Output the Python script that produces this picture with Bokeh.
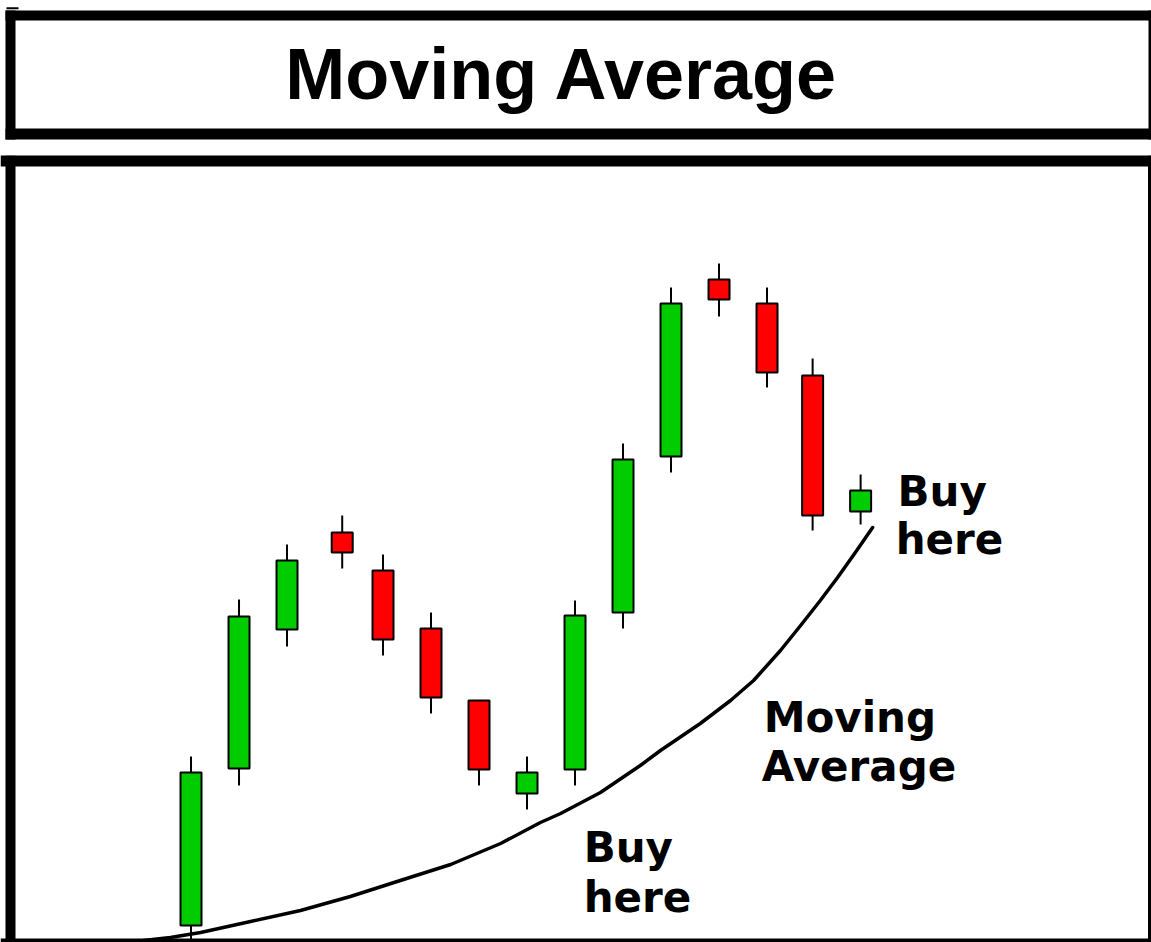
from bokeh.plotting import figure
from bokeh.layouts import column
from bokeh.models import Range1d, Span, ColumnDataSource
from bokeh.core.properties import value
from bokeh.embed import file_html
from bokeh.resources import INLINE

# ---- data ----
title_text = "Moving Average"
day = [1, 2, 3, 4.15, 5, 6, 7, 8, 9, 10, 11, 12, 13, 13.95, 14.95]
open_ = [7.5, 23.2, 37.1, 46.8, 43.0, 37.2, 30.0, 20.7, 23.1, 38.8, 54.4, 72.1, 69.7, 62.5, 48.9]
close = [22.8, 38.4, 44.0, 44.8, 36.1, 30.3, 23.1, 22.8, 38.5, 54.1, 69.7, 70.1, 62.8, 48.5, 51.0]
high = [24.4, 40.1, 45.6, 48.5, 44.6, 38.8, 30.0, 24.4, 40.0, 55.7, 71.3, 73.7, 71.3, 64.2, 52.6]
low = [6.0, 21.5, 35.4, 43.2, 34.5, 28.7, 21.5, 19.1, 21.5, 37.2, 52.8, 68.4, 61.3, 47.0, 47.6]

ma_day = [0.01, 0.57, 1.20, 2.24, 3.28, 4.32, 5.36, 6.41, 7.45, 8.28, 8.70, 9.53, 10.36,
          10.78, 11.61, 12.24, 12.72, 13.28, 13.70, 14.11, 14.47, 14.84, 15.20]
ma_val = [6.0, 6.3, 6.8, 7.9, 9.0, 10.4, 12.0, 13.6, 15.7, 17.8, 18.7, 20.8, 23.5,
          25.0, 27.7, 30.0, 32.0, 35.0, 37.5, 40.0, 42.3, 44.8, 47.3]

label_lines = ["Buy", "here", "Moving", "Average", "Buy", "here"]
label_x = [15.72, 15.68, 12.93, 12.89, 9.18, 9.18]
label_y = [50.9, 46.1, 28.3, 23.4, 15.3, 10.3]

GREEN = "#00cc00"
RED = "#ff0000"

W = 1151
H1 = 155
H2 = 942 - H1

# ---- title panel ----
t = figure(width=W, height=H1, x_range=Range1d(0, W), y_range=Range1d(H1, 0),
           output_backend="svg", toolbar_location=None,
           x_axis_location=None, y_axis_location=None, min_border=0)
t.grid.visible = False
t.outline_line_color = None
t.background_fill_color = "white"
t.border_fill_color = "white"
# box border (decoration)
t.quad(left=[5, 5, 5, 1148, 6], right=[W, 15, W, W, 18], top=[10, 10, 128, 10, 6.7],
       bottom=[20, 139, 139, 139, 8.7], fill_color="black", line_color=None)
t.text(x=[561.5], y=[73], text=[title_text], text_align="center", text_baseline="alphabetic",
       text_font=value("Liberation Sans"), text_font_style="bold", text_font_size="72px",
       text_color="black")

# ---- chart panel ----
PX_PER_DAY = 48.0
x0, x1 = -2.969, 21.010
y0, y1 = 5.8, 84.5
p = figure(width=W, height=H2, x_range=Range1d(x0, x1), y_range=Range1d(y0, y1),
           output_backend="svg", toolbar_location=None,
           x_axis_location=None, y_axis_location=None, min_border=0)
p.grid.visible = False
p.outline_line_color = None
p.background_fill_color = "white"
p.border_fill_color = "white"

colors = [GREEN if c >= o else RED for o, c in zip(open_, close)]
src = ColumnDataSource(dict(
    day=day, high=high, low=low,
    top=[max(o, c) for o, c in zip(open_, close)],
    bottom=[min(o, c) for o, c in zip(open_, close)],
    color=colors,
))

p.line(ma_day, ma_val, line_color="black", line_width=3.5, line_join="round", line_cap="round")
p.segment(x0="day", y0="low", x1="day", y1="high", source=src, line_color="black", line_width=2)
p.vbar(x="day", top="top", bottom="bottom", width=0.4375, source=src,
       fill_color="color", line_color="black", line_width=2)

p.text(x=label_x, y=label_y, text=label_lines, text_align="left", text_baseline="alphabetic",
       text_font=value("DejaVu Sans"), text_font_style="bold", text_font_size="42px",
       text_color="black")

# frame border
p.add_layout(Span(location=x0 + 10 / PX_PER_DAY, dimension="height", line_color="black", line_width=10))
p.add_layout(Span(location=x1, dimension="height", line_color="black", line_width=7))
p.add_layout(Span(location=y1, dimension="width", line_color="black", line_width=22))
p.add_layout(Span(location=y0, dimension="width", line_color="black", line_width=8))

layout = column(t, p, spacing=0)
open("out.html", "w").write(file_html(layout, INLINE))
